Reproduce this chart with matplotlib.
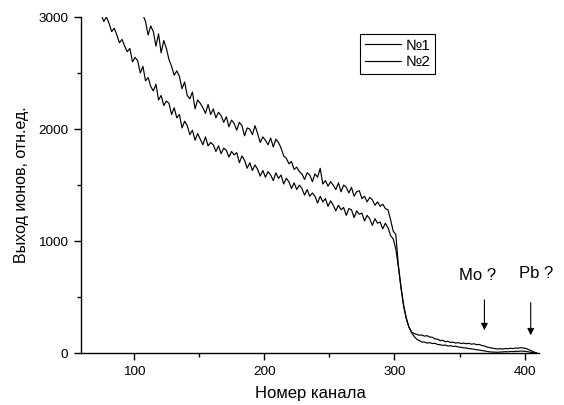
import numpy as np
import matplotlib
matplotlib.use("Agg")
import matplotlib.pyplot as plt

plt.rcParams['font.family'] = ['Liberation Sans', 'DejaVu Sans']

# Series №1 (upper curve), odd channels 107..409
channels_1 = list(range(107, 410, 2))
yield_1 = [
    3020, 2960, 2840, 2920, 2870, 2740, 2850, 2680, 2790, 2720,
    2620, 2560, 2480, 2520, 2470, 2360, 2420, 2300, 2270, 2330,
    2180, 2260, 2230, 2190, 2140, 2220, 2130, 2180, 2100, 2150,
    2120, 2060, 2110, 2020, 2080, 2050, 1990, 2060, 2030, 1940,
    2010, 2000, 1950, 2030, 1960, 1880, 1930, 1900, 1860, 1920,
    1840, 1910, 1880, 1830, 1760, 1740, 1690, 1710, 1640, 1660,
    1620, 1600, 1550, 1610, 1590, 1530, 1600, 1570, 1650, 1510,
    1540, 1490, 1530, 1500, 1460, 1520, 1440, 1500, 1480, 1430,
    1480, 1400, 1440, 1450, 1380, 1400, 1350, 1390, 1370, 1320,
    1350, 1310, 1330, 1290, 1280, 1190, 1090, 1060, 780, 590,
    430, 315, 235, 190, 175, 168, 160, 162, 152, 156,
    144, 142, 128, 124, 112, 114, 102, 106, 96, 98,
    90, 94, 86, 90, 84, 88, 80, 84, 76, 78,
    68, 64, 54, 50, 44, 42, 37, 40, 36, 42,
    39, 44, 41, 46, 44, 49, 45, 42, 31, 20,
    10, 2,
]

# Series №2 (lower curve), odd channels 75..409
channels_2 = list(range(75, 410, 2))
yield_2 = [
    3020, 2960, 3000, 2945, 2870, 2900, 2840, 2770, 2800, 2740,
    2690, 2720, 2600, 2640, 2610, 2500, 2560, 2430, 2460, 2380,
    2340, 2400, 2260, 2300, 2210, 2250, 2230, 2130, 2190, 2100,
    2130, 2010, 2070, 2030, 1950, 1990, 1900, 1960, 1910, 1860,
    1930, 1850, 1880, 1860, 1800, 1850, 1780, 1830, 1810, 1750,
    1800, 1770, 1790, 1700, 1760, 1720, 1650, 1700, 1630, 1680,
    1640, 1580, 1630, 1570, 1620, 1590, 1540, 1610, 1560, 1590,
    1510, 1560, 1530, 1470, 1520, 1460, 1500, 1470, 1410, 1460,
    1400, 1430, 1400, 1340, 1400, 1350, 1380, 1310, 1360, 1320,
    1270, 1320, 1280, 1300, 1230, 1290, 1280, 1210, 1270, 1240,
    1250, 1180, 1230, 1200, 1140, 1200, 1160, 1170, 1110, 1160,
    1120, 1050, 1020, 930, 770, 580, 420, 310, 235, 185,
    150, 125, 112, 100, 98, 90, 94, 86, 88, 78,
    75, 70, 72, 64, 66, 60, 62, 55, 52, 48,
    46, 41, 38, 35, 30, 28, 23, 20, 15, 12,
    10, 9, 8, 10, 11, 13, 12, 15, 14, 17,
    16, 19, 17, 15, 11, 6, 3, 1,
]

series_labels = ['№1', '№2']

fig = plt.figure(figsize=(5.64, 4.05), dpi=100)
ax = fig.add_axes([0.1436, 0.128, 0.8124, 0.830])

ax.plot(channels_1, yield_1, color='black', linewidth=0.85, label=series_labels[0])
ax.plot(channels_2, yield_2, color='black', linewidth=0.85, label=series_labels[1])

ax.set_xlim(59.5, 411)
ax.set_ylim(0, 3000)
ax.set_xticks([100, 200, 300, 400])
ax.set_xticks([150, 250, 350], minor=True)
ax.set_yticks([0, 1000, 2000, 3000])
ax.set_yticks([500, 1500, 2500], minor=True)
ax.tick_params(which='major', direction='out', length=5, width=1, labelsize=9.7, pad=4)
ax.tick_params(which='minor', direction='out', length=3, width=1)

for side in ['top', 'right']:
    ax.spines[side].set_visible(False)
for side in ['left', 'bottom']:
    ax.spines[side].set_linewidth(1.0)

ax.set_xlabel('Номер канала', fontsize=12, labelpad=6)
ax.set_ylabel('Выход ионов, отн.ед.', fontsize=11.5, labelpad=7)

# annotations
ax.text(364, 690, 'Mo ?', ha='center', va='center', fontsize=12)
ax.annotate('', xy=(369, 180), xytext=(369, 500),
            arrowprops=dict(arrowstyle='-|>', color='black', lw=0.8, mutation_scale=10))
ax.text(408.6, 715, 'Pb ?', ha='center', va='center', fontsize=12, clip_on=False)
ax.annotate('', xy=(404.5, 135), xytext=(404.5, 475),
            arrowprops=dict(arrowstyle='-|>', color='black', lw=0.8, mutation_scale=10))

leg = ax.legend(loc='upper left', bbox_to_anchor=(0.609, 0.949), fontsize=11,
                frameon=True, fancybox=False, edgecolor='black', framealpha=1,
                handlelength=2.4, handletextpad=0.3, borderpad=0.3, labelspacing=0.15,
                borderaxespad=0)
leg.get_frame().set_linewidth(0.8)

plt.savefig('out.png', dpi=100)
